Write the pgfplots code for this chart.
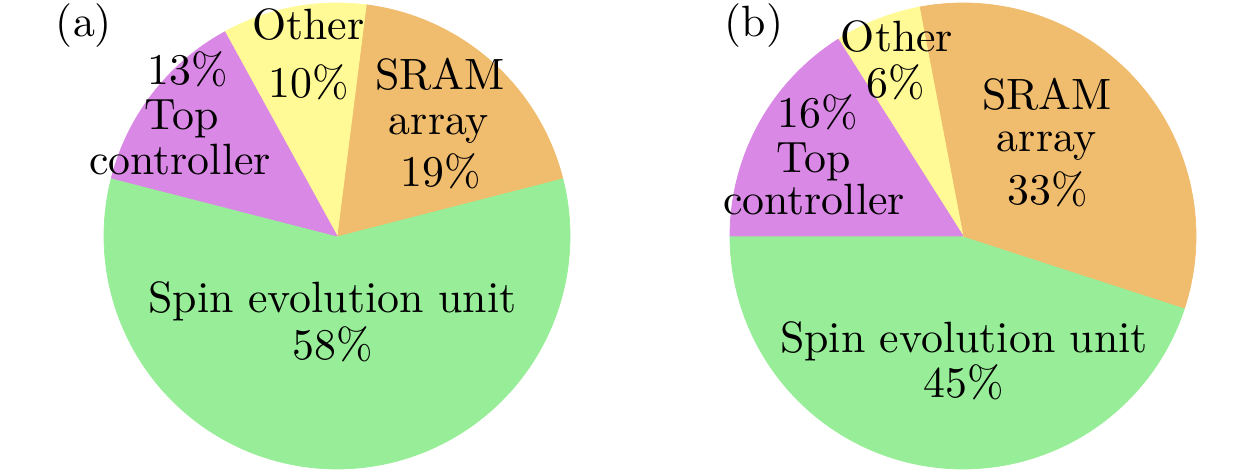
\documentclass[border=0pt]{standalone}
\usepackage{graphicx}
\usepackage{pgfplots}
\pgfplotsset{compat=1.18}
\definecolor{cgreen}{RGB}{152,238,152}
\definecolor{corange}{RGB}{240,188,110}
\definecolor{cviolet}{RGB}{218,136,230}
\definecolor{cyellow}{RGB}{255,250,150}
\newcommand{\lbl}[3]{\node[anchor=base,inner sep=0pt] at (axis cs:#1,{472-#2}) {\scalebox{1.753}{#3}};}
\begin{document}
\begin{tikzpicture}
\useasboundingbox (0,0) rectangle (504pt,188.8pt);
\begin{axis}[
  at={(0,0)}, anchor=south west,
  width=504pt, height=188.8pt, scale only axis,
  xmin=0, xmax=1260, ymin=0, ymax=472,
  hide axis, clip=false,
  samples=120,
  font=\fontsize{10}{12}\selectfont,
]
% ---- pie (a): 58 / 19 / 10 / 13 percent, centre (337,236), r=233
\addplot[fill=cgreen,draw=cgreen,line width=0.3pt,domain=0:58,variable=\t]
  ({337+233*cos(3.6*t-194.4)},{236+233*sin(3.6*t-194.4)}) -- (axis cs:337,236) -- cycle;
\addplot[fill=corange,draw=corange,line width=0.3pt,domain=58:77,variable=\t]
  ({337+233*cos(3.6*t-194.4)},{236+233*sin(3.6*t-194.4)}) -- (axis cs:337,236) -- cycle;
\addplot[fill=cyellow,draw=cyellow,line width=0.3pt,domain=77:87,variable=\t]
  ({337+233*cos(3.6*t-194.4)},{236+233*sin(3.6*t-194.4)}) -- (axis cs:337,236) -- cycle;
\addplot[fill=cviolet,draw=cviolet,line width=0.3pt,domain=87:100,variable=\t]
  ({337+233*cos(3.6*t-194.4)},{236+233*sin(3.6*t-194.4)}) -- (axis cs:337,236) -- cycle;
% ---- pie (b): 45 / 33 / 6 / 16 percent, centre (963,236), r=233
\addplot[fill=cgreen,draw=cgreen,line width=0.3pt,domain=0:45,variable=\t]
  ({963+233*cos(3.6*t-180)},{236+233*sin(3.6*t-180)}) -- (axis cs:963,236) -- cycle;
\addplot[fill=corange,draw=corange,line width=0.3pt,domain=45:78,variable=\t]
  ({963+233*cos(3.6*t-180)},{236+233*sin(3.6*t-180)}) -- (axis cs:963,236) -- cycle;
\addplot[fill=cyellow,draw=cyellow,line width=0.3pt,domain=78:84,variable=\t]
  ({963+233*cos(3.6*t-180)},{236+233*sin(3.6*t-180)}) -- (axis cs:963,236) -- cycle;
\addplot[fill=cviolet,draw=cviolet,line width=0.3pt,domain=84:100,variable=\t]
  ({963+233*cos(3.6*t-180)},{236+233*sin(3.6*t-180)}) -- (axis cs:963,236) -- cycle;
% ---- labels (a)  (x centre, baseline y in px from top)
\lbl{84}{37}{(a)}
\lbl{308.5}{40}{Other}
\lbl{309}{98}{10\%}
\lbl{440}{90}{SRAM}
\lbl{439}{135}{array}
\lbl{441}{187}{19\%}
\lbl{188}{85}{13\%}
\lbl{182}{130}{Top}
\lbl{180}{175}{controller}
\lbl{332.5}{313}{Spin evolution unit}
\lbl{332.5}{360}{58\%}
% ---- labels (b)
\lbl{754}{37}{(b)}
\lbl{897}{52}{Other}
\lbl{896}{98}{6\%}
\lbl{1047}{110}{SRAM}
\lbl{1047}{152}{array}
\lbl{1048}{205}{33\%}
\lbl{818}{128}{16\%}
\lbl{814}{173}{Top}
\lbl{814}{215}{controller}
\lbl{964}{353}{Spin evolution unit}
\lbl{964}{398}{45\%}
\end{axis}
\end{tikzpicture}
\end{document}
